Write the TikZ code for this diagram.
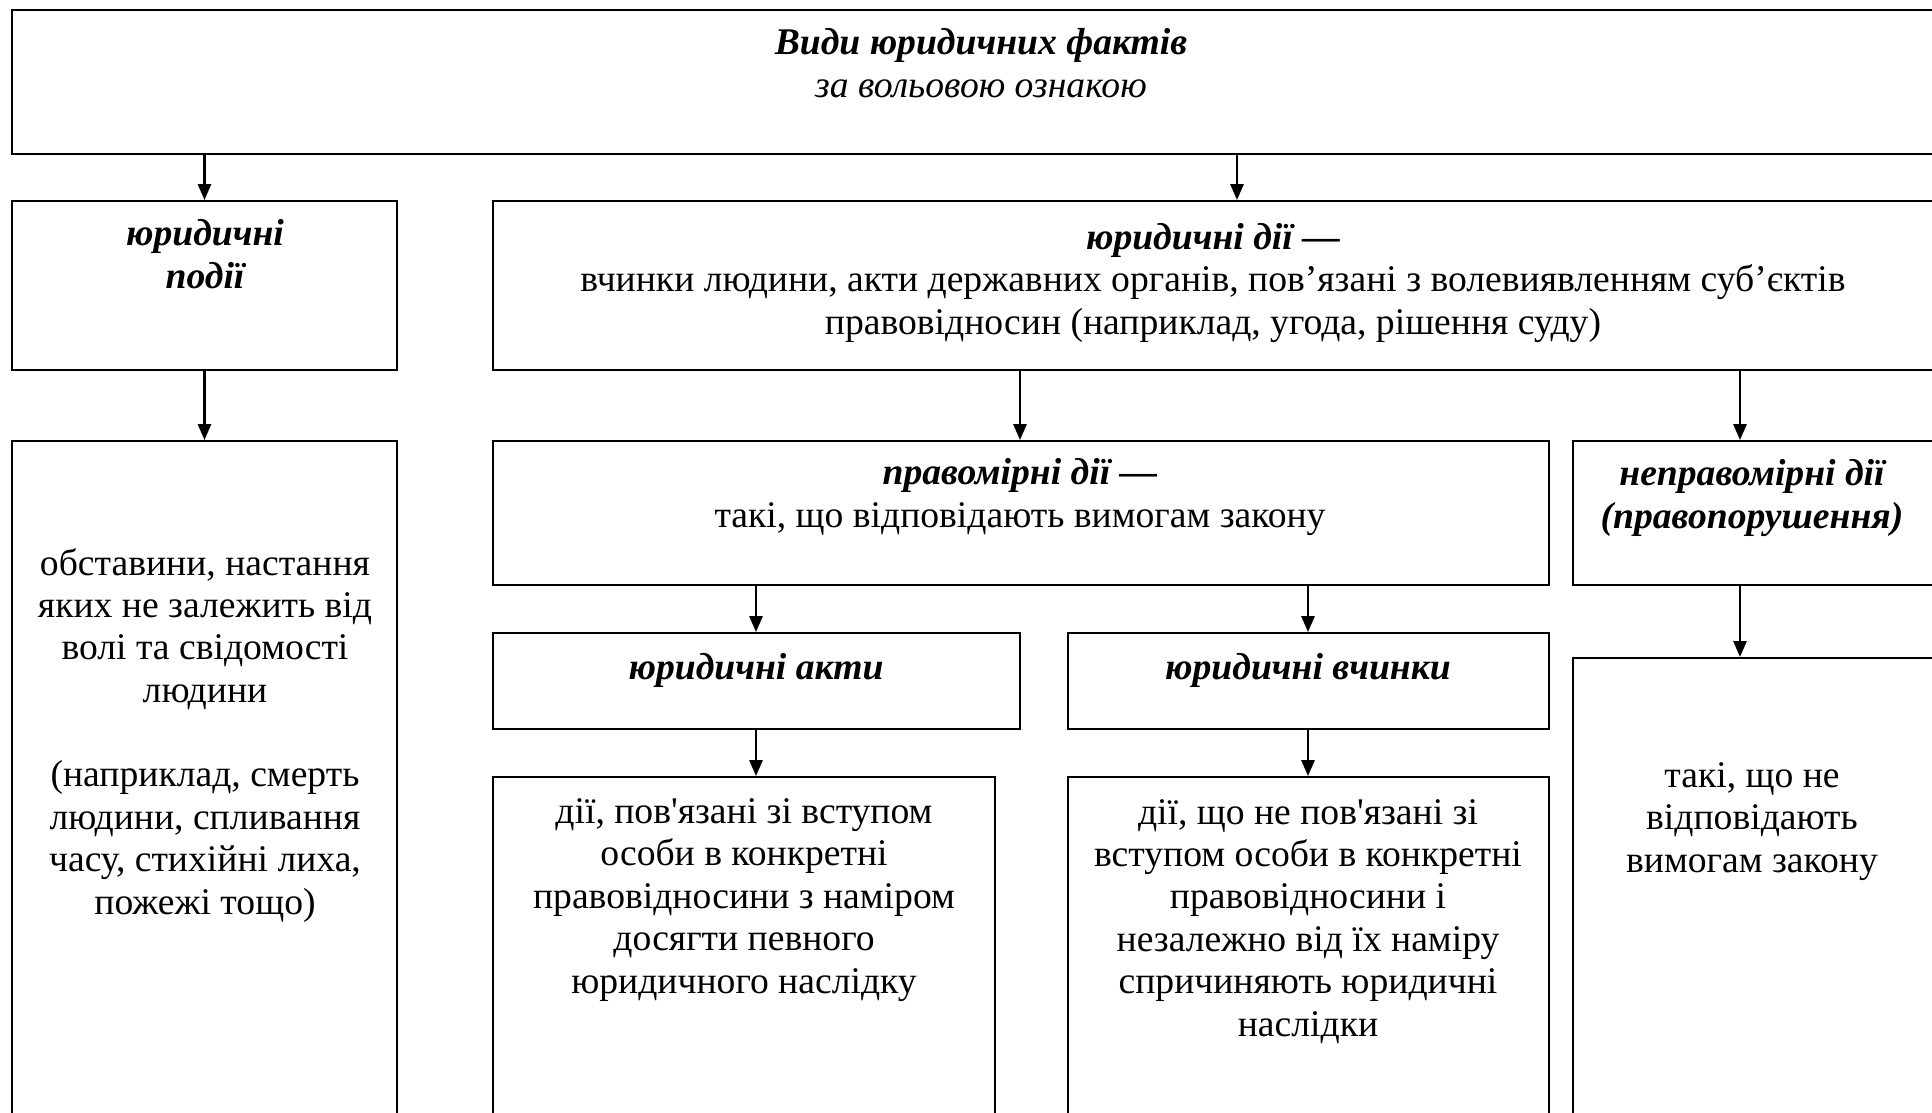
\documentclass[tikz,border=0pt]{standalone}
\usepackage{fontspec}
\setmainfont{Liberation Serif}[Ligatures=TeXOff]
\usetikzlibrary{arrows.meta,fit,positioning}

\begin{document}
\begin{tikzpicture}[x=0.38pt, y=-0.38pt,
    box/.style={draw, line width=0.8pt, inner sep=0pt},
    arr/.style={-{Triangle[length=6pt,width=5pt]}, line width=0.8pt},
    txt/.style={align=center, anchor=base, inner sep=0pt, font=\fontsize{14.3}{16.1}\selectfont},
    head/.style={txt, font=\fontsize{14.3}{16.1}\selectfont\bfseries\itshape}]
        % Page
        \fill[white] (0,0) rectangle (1932,1112);
        \clip (0,0) rectangle (1932,1112);

        % Boxes
        \node[box, fit={(12,10) (1945,154)}] (kinds) {};
        \node[box, fit={(12,201) (397,370)}] (events) {};
        \node[box, fit={(493,201) (1945,370)}] (acts) {};
        \node[box, fit={(12,441) (397,1125)}] (eventsdesc) {};
        \node[box, fit={(493,441) (1549,585)}] (lawful) {};
        \node[box, fit={(1573,441) (1945,585)}] (unlawful) {};
        \node[box, fit={(493,633) (1020,729)}] (legalacts) {};
        \node[box, fit={(1068,633) (1549,729)}] (deeds) {};
        \node[box, fit={(493,777) (995,1125)}] (legalactsdesc) {};
        \node[box, fit={(1068,777) (1549,1125)}] (deedsdesc) {};
        \node[box, fit={(1573,658) (1945,1125)}] (unlawfuldesc) {};

        % Texts (placed at the baseline of their last line)
        \node[head] (kindst) at (981,97) {Види юридичних фактів\\ \textmd{за вольовою ознакою}};
        \node[head] (eventst) at (205,288) {юридичні\\ події};
        \node[txt] (actst) at (1213,334) {\textbf{\textit{юридичні дії —}}\\
            вчинки людини, акти державних органів, пов’язані з волевиявленням суб’єктів\\
            правовідносин (наприклад, угода, рішення суду)};
        \node[txt] (eventsdesct) at (205,914) {обставини, настання\\ яких не залежить від\\
            волі та свідомості\\ людини\\[16.1pt] (наприклад, смерть\\ людини, спливання\\
            часу, стихійні лиха,\\ пожежі тощо)};
        \node[txt] (lawfult) at (1020,527) {\textbf{\textit{правомірні дії —}}\\
            такі, що відповідають вимогам закону};
        \node[head] (unlawfult) at (1752,528) {неправомірні дії\\ (правопорушення)};
        \node[head] (legalactst) at (756,679) {юридичні акти};
        \node[head] (deedst) at (1308,679) {юридичні вчинки};
        \node[txt] (legalactsdesct) at (744,993) {дії, пов'язані зі вступом\\ особи в конкретні\\
            правовідносини з наміром\\ досягти певного\\ юридичного наслідку};
        \node[txt] (deedsdesct) at (1308,1036) {дії, що не пов'язані зі\\ вступом особи в конкретні\\
            правовідносини і\\ незалежно від їх наміру\\ спричиняють юридичні\\ наслідки};
        \node[txt] (unlawfuldesct) at (1752,872) {такі, що не\\ відповідають\\ вимогам закону};

        % Arrow columns
        \coordinate (xacts) at (1237,0);
        \coordinate (xlawful) at (1020,0);
        \coordinate (xunlawful) at (1740,0);
        \coordinate (xlegalacts) at (756,0);
        \coordinate (xdeeds) at (1308,0);

        % Arrows
        \draw[arr] (kinds.south -| events.north) -- (events.north);
        \draw[arr] (kinds.south -| xacts) -- (acts.north -| xacts);
        \draw[arr] (events.south) -- (eventsdesc.north);
        \draw[arr] (acts.south -| xlawful) -- (lawful.north -| xlawful);
        \draw[arr] (acts.south -| xunlawful) -- (unlawful.north -| xunlawful);
        \draw[arr] (lawful.south -| xlegalacts) -- (legalacts.north -| xlegalacts);
        \draw[arr] (lawful.south -| xdeeds) -- (deeds.north -| xdeeds);
        \draw[arr] (legalacts.south -| xlegalacts) -- (legalactsdesc.north -| xlegalacts);
        \draw[arr] (deeds.south -| xdeeds) -- (deedsdesc.north -| xdeeds);
        \draw[arr] (unlawful.south -| xunlawful) -- (unlawfuldesc.north -| xunlawful);
    \end{tikzpicture}
\end{document}
